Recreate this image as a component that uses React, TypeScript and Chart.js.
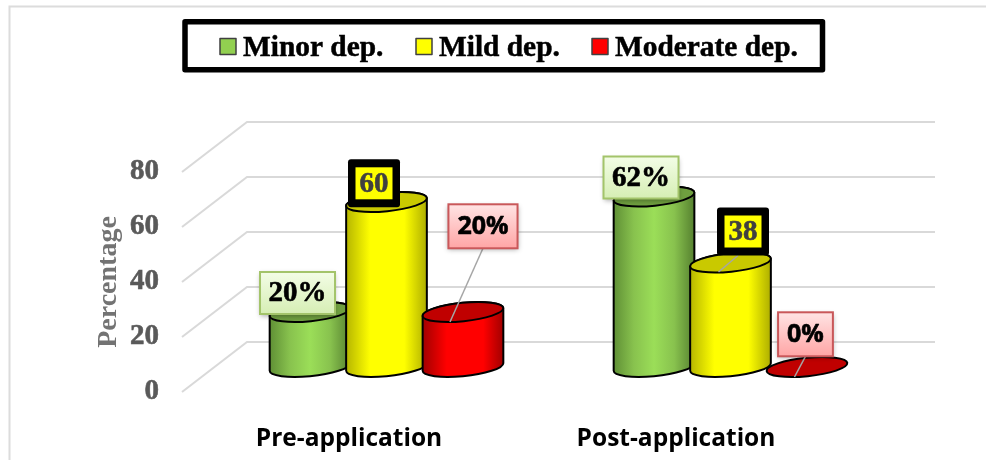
import React, { useEffect, useRef } from "react";
import { Chart, registerables, BarController, BarElement } from "chart.js";

const categories = ["Pre-application", "Post-application"];
const seriesNames = ["Minor dep.", "Mild dep.", "Moderate dep."];
const minorValues = [20, 62];
const mildValues = [60, 38];
const moderateValues = [20, 0];
const valueTicks = [0, 20, 40, 60, 80];

const SERIF = '"Liberation Serif", serif';
const SANS = '"Open Sans", sans-serif';

// Depth of the 3D floor: how far the back wall sits from the axis plane.
const DEPTH_X = 65;
const DEPTH_Y = -50;
const TILT = -0.1;
const CAP_RY = 9.2;
const CYLINDER_SCALE = 1.06;

const shades: Record<string, { stops: [number, string][]; cap: string }> = {
  "#92d050": {
    stops: [[0, "#5f8f35"], [0.25, "#88c24e"], [0.5, "#9bde58"], [0.75, "#88c24e"], [1, "#55802f"]],
    cap: "#6f9f3f",
  },
  "#ffff00": {
    stops: [[0, "#b5b500"], [0.3, "#ffff00"], [0.72, "#ffff00"], [1, "#adad00"]],
    cap: "#c9c900",
  },
  "#ff0000": {
    stops: [[0, "#a00000"], [0.3, "#ff0000"], [0.75, "#ff0000"], [1, "#a00000"]],
    cap: "#c00000",
  },
};

// A bar that paints itself as a cylinder. Painting is deferred to a plugin so
// that later series can overlap earlier ones.
class CylinderElement extends BarElement {
  static id = "cylinder";
  draw() {}
  paint(ctx: CanvasRenderingContext2D) {
    const { x, y, base, width } = (this as any).getProps(["x", "y", "base", "width"], false);
    const color = (this as any).options.backgroundColor as string;
    const shade = shades[color];
    const cx = x + DEPTH_X / 2;
    const topY = y + DEPTH_Y / 2;
    const baseY = base + DEPTH_Y / 2;
    const rx = (width * CYLINDER_SCALE) / 2;
    const t0 = Math.atan2(-CAP_RY * Math.sin(TILT), rx * Math.cos(TILT));
    ctx.save();
    ctx.lineWidth = 2;
    ctx.strokeStyle = "#000000";
    ctx.lineJoin = "round";
    if (baseY - topY > 0.5) {
      const gradient = ctx.createLinearGradient(cx - rx, 0, cx + rx, 0);
      shade.stops.forEach(([at, c]) => gradient.addColorStop(at, c));
      ctx.beginPath();
      ctx.ellipse(cx, baseY, rx, CAP_RY, TILT, t0 + Math.PI, t0, true);
      ctx.ellipse(cx, topY, rx, CAP_RY, TILT, t0, t0 + Math.PI, true);
      ctx.closePath();
      ctx.fillStyle = gradient;
      ctx.fill();
      ctx.stroke();
    }
    ctx.beginPath();
    ctx.ellipse(cx, topY, rx, CAP_RY, TILT, 0, Math.PI * 2);
    ctx.fillStyle = shade.cap;
    ctx.fill();
    ctx.stroke();
    ctx.restore();
  }
}

class CylinderController extends BarController {
  static id = "cylinder";
  static defaults = { ...BarController.defaults, dataElementType: "cylinder" };
  static overrides = BarController.overrides;
}

const cylinders = {
  id: "cylinders",
  afterDatasetsDraw(chart: any) {
    chart.data.datasets.forEach((_: any, si: number) => {
      chart.getDatasetMeta(si).data.forEach((bar: any) => bar.paint(chart.ctx));
    });
  },
};

// Walls of the 3D plot: the diagonal floor-to-wall lines and the long wall lines.
const wallGrid = {
  id: "wallGrid",
  beforeDatasetsDraw(chart: any) {
    const { ctx, scales, chartArea } = chart;
    ctx.save();
    ctx.strokeStyle = "#d9d9d9";
    ctx.lineWidth = 2;
    valueTicks.forEach((v) => {
      const py = scales.y.getPixelForValue(v);
      ctx.beginPath();
      ctx.moveTo(chartArea.left, py);
      ctx.lineTo(chartArea.left + DEPTH_X, py + DEPTH_Y);
      ctx.lineTo(chartArea.right + DEPTH_X, py + DEPTH_Y);
      ctx.stroke();
    });
    ctx.restore();
  },
};

// Outer frame of the figure, open on the right and at the bottom.
const frame = {
  id: "frame",
  beforeDraw(chart: any) {
    const { ctx, width, height } = chart;
    ctx.save();
    ctx.fillStyle = "#ffffff";
    ctx.fillRect(0, 0, width, height);
    ctx.strokeStyle = "#dcdcdc";
    ctx.lineWidth = 2;
    ctx.beginPath();
    ctx.moveTo(9.5, height);
    ctx.lineTo(9.5, 6.5);
    ctx.lineTo(width, 6.5);
    ctx.stroke();
    ctx.restore();
  },
};

// Centre of each callout box, relative to the top cap of its cylinder.
const calloutOffsets = [
  [[-12.5, -19], [-13, -19]],
  [[-12.5, -18.7], [12.5, -31]],
  [[20, -85.7], [-1.5, -32.7]],
];
// Leader line ends on the cap, relative to the cap centre; null means no leader.
const leaderEnds: ([number, number] | null)[][] = [
  [null, null],
  [null, [-12, 9.5]],
  [[-13, 10], [-12.5, 10]],
];

// Fill text with a hairline outline of the same colour for a heavier weight.
function heavyText(ctx: CanvasRenderingContext2D, text: string, x: number, y: number, weight: number) {
  ctx.lineWidth = weight;
  ctx.strokeStyle = ctx.fillStyle as string;
  ctx.lineJoin = "round";
  ctx.strokeText(text, x, y);
  ctx.fillText(text, x, y);
}

const callouts = {
  id: "callouts",
  afterDatasetsDraw(chart: any) {
    const { ctx } = chart;
    chart.data.datasets.forEach((ds: any, si: number) => {
      const meta = chart.getDatasetMeta(si);
      meta.data.forEach((bar: any, ci: number) => {
        const capX = bar.x + DEPTH_X / 2;
        const capY = bar.y + DEPTH_Y / 2;
        const [ox, oy] = calloutOffsets[si][ci];
        const bx = capX + ox;
        const by = capY + oy;
        const value = ds.data[ci];
        const text = si === 1 ? String(value) : value + "%";
        ctx.save();
        ctx.textAlign = "center";
        ctx.textBaseline = "middle";
        ctx.font = si === 2 ? `bold 25px ${SANS}` : `bold 29px ${SERIF}`;
        const tw = ctx.measureText(text).width;
        if (si === 1) {
          const hw = 26;
          const hh = 24;
          const leader = leaderEnds[si][ci];
          if (leader) {
            ctx.strokeStyle = "#a6a6a6";
            ctx.lineWidth = 1.5;
            ctx.beginPath();
            ctx.moveTo(bx - 5, by + hh);
            ctx.lineTo(capX + leader[0], capY + leader[1]);
            ctx.stroke();
          }
          ctx.beginPath();
          ctx.roundRect(bx - hw, by - hh, hw * 2, hh * 2, 3);
          ctx.fillStyle = "#000000";
          ctx.fill();
          ctx.fillStyle = "#ffff00";
          ctx.fillRect(bx - 18.5, by - 16, 37, 32);
          ctx.fillStyle = "#404040";
          heavyText(ctx, text, bx, by + 1, 0.6);
        } else {
          const hw = si === 0 ? 37.5 : (tw + 18) / 2;
          const hh = si === 0 ? 21 : 22;
          const leader = leaderEnds[si][ci];
          if (leader) {
            ctx.strokeStyle = "#a6a6a6";
            ctx.lineWidth = 1.5;
            ctx.beginPath();
            ctx.moveTo(bx, by + hh);
            ctx.lineTo(capX + leader[0], capY + leader[1]);
            ctx.stroke();
          }
          const fill = ctx.createLinearGradient(0, by - hh, 0, by + hh);
          if (si === 0) {
            fill.addColorStop(0, "#f3fde6");
            fill.addColorStop(1, "#d6eeb4");
          } else {
            fill.addColorStop(0, "#ffe4e4");
            fill.addColorStop(1, "#ffa5a5");
          }
          ctx.save();
          ctx.shadowColor = "rgba(0,0,0,0.35)";
          ctx.shadowBlur = 5;
          ctx.shadowOffsetX = 0;
          ctx.shadowOffsetY = 2;
          ctx.fillStyle = fill;
          ctx.fillRect(bx - hw, by - hh, hw * 2, hh * 2);
          ctx.restore();
          ctx.strokeStyle = si === 0 ? "#a3c46a" : "#c9585a";
          ctx.lineWidth = 2;
          ctx.strokeRect(bx - hw, by - hh, hw * 2, hh * 2);
          ctx.fillStyle = "#000000";
          heavyText(ctx, text, bx, by + 1, 0.6);
        }
        ctx.restore();
      });
    });
  },
};

// Category names sit under the floor, each nudged left of its group.
const categoryShift = [-5, -22];
const categoryLabels = {
  id: "categoryLabels",
  afterDraw(chart: any) {
    const { ctx, scales } = chart;
    ctx.save();
    ctx.font = `bold 24.5px ${SANS}`;
    ctx.fillStyle = "#000000";
    ctx.textAlign = "center";
    ctx.textBaseline = "middle";
    categories.forEach((label, i) => {
      ctx.fillText(label, scales.x.getPixelForTick(i) + categoryShift[i], 439.5);
    });
    ctx.restore();
  },
};

// Framed legend strip above the plot.
const legendX = [220, 416, 592];
const framedLegend = {
  id: "framedLegend",
  afterDraw(chart: any) {
    const { ctx } = chart;
    ctx.save();
    ctx.strokeStyle = "#000000";
    ctx.lineWidth = 5.5;
    ctx.lineJoin = "round";
    ctx.strokeRect(185, 21.75, 637.5, 48);
    ctx.font = `bold 29.4px ${SERIF}`;
    ctx.textBaseline = "alphabetic";
    ctx.textAlign = "left";
    chart.data.datasets.forEach((ds: any, i: number) => {
      ctx.fillStyle = ds.backgroundColor;
      ctx.fillRect(legendX[i], 38.5, 16, 16);
      ctx.strokeStyle = "#404040";
      ctx.lineWidth = 1.5;
      ctx.strokeRect(legendX[i], 38.5, 16, 16);
      ctx.fillStyle = "#000000";
      heavyText(ctx, ds.label, legendX[i] + 23, 56, 0.5);
    });
    ctx.restore();
  },
};

Chart.register(...registerables, CylinderElement as any, CylinderController as any);

export default function App() {
  const canvasRef = useRef<HTMLCanvasElement>(null);

  useEffect(() => {
    const chart = new Chart(canvasRef.current!, {
      type: "cylinder" as any,
      data: {
        labels: categories,
        datasets: [
          { label: seriesNames[0], data: minorValues, backgroundColor: "#92d050" },
          { label: seriesNames[1], data: mildValues, backgroundColor: "#ffff00" },
          { label: seriesNames[2], data: moderateValues, backgroundColor: "#ff0000" },
        ],
      },
      options: {
        responsive: false,
        animation: false,
        layout: { padding: { left: 92, right: 116, top: 172, bottom: 60 } },
        datasets: { cylinder: { categoryPercentage: 0.667, barPercentage: 1, clip: false } } as any,
        plugins: { legend: { display: false }, tooltip: { enabled: false }, title: { display: false } },
        scales: {
          x: {
            type: "category",
            offset: true,
            grid: { display: false },
            border: { display: false },
            ticks: { display: false },
          },
          y: {
            type: "linear",
            min: 0,
            max: 80,
            grid: { display: false, drawTicks: false },
            border: { display: false },
            afterBuildTicks(axis: any) {
              axis.ticks = valueTicks.map((value) => ({ value }));
            },
            afterFit(axis: any) {
              axis.width = 90;
            },
            ticks: {
              color: "#595959",
              padding: 23,
              textStrokeColor: "#595959",
              textStrokeWidth: 0.6,
              font: { family: SERIF, size: 29, weight: "bold" },
            },
            title: {
              display: true,
              text: "Percentage",
              color: "#737373",
              padding: { top: 0, bottom: 0 },
              font: { family: SERIF, size: 28, weight: "bold" },
            },
          },
        },
      } as any,
      plugins: [frame, wallGrid, cylinders, callouts, categoryLabels, framedLegend],
    });
    return () => chart.destroy();
  }, []);

  return (
    <div style={{ position: "fixed", left: 0, top: 0, width: 986, height: 460 }}>
      <canvas ref={canvasRef} width={986} height={460} style={{ display: "block" }} />
    </div>
  );
}
